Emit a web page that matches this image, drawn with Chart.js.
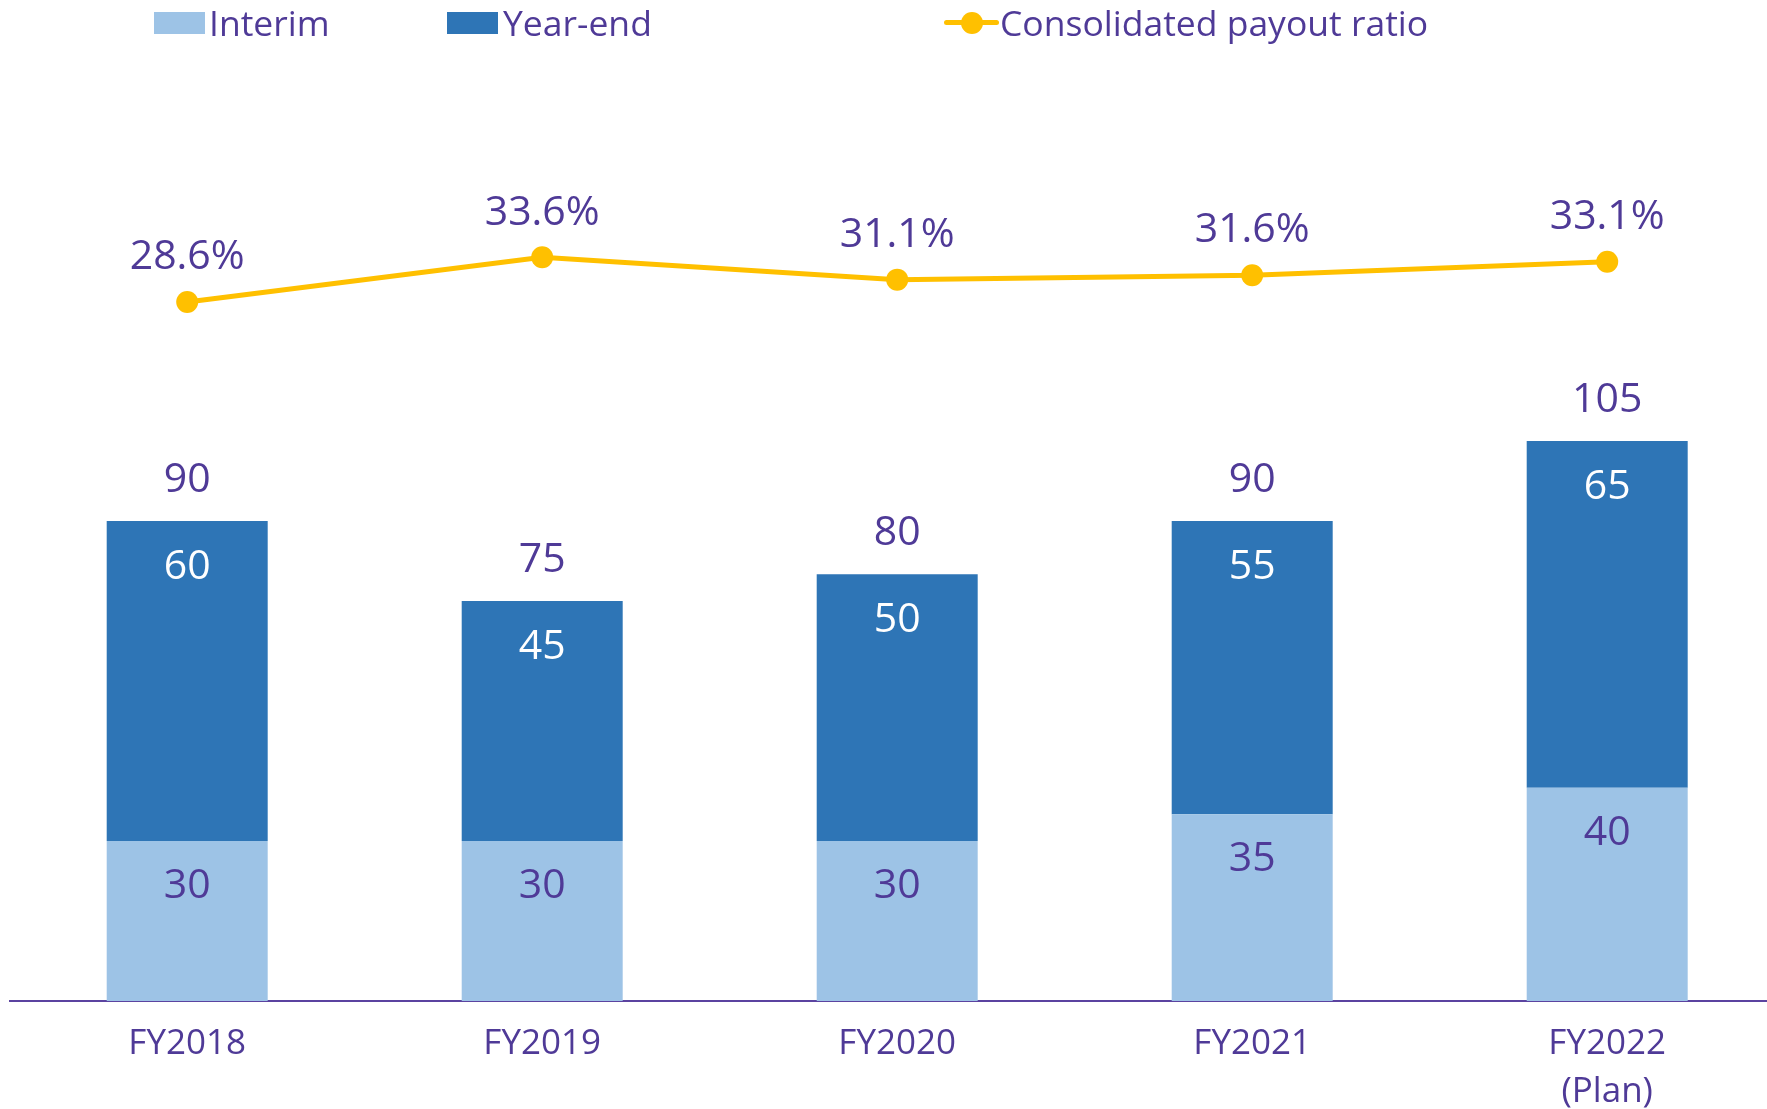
<!DOCTYPE html>
<html><head><meta charset="utf-8">
<script src="https://cdn.jsdelivr.net/npm/chart.js@4.4.0/dist/chart.umd.min.js"></script>
<style>
html,body{margin:0;padding:0;background:#fff;overflow:hidden;width:1767px;height:1109px;}
#wrap{position:relative;width:1767px;height:1109px;overflow:hidden;}
canvas{position:absolute;left:0;top:0;}
.lg{position:absolute;top:0;font-family:"Open Sans",sans-serif;font-size:35.5px;line-height:44px;color:#4F3A97;white-space:nowrap;}
.sw{position:absolute;top:12px;width:51px;height:22px;}
</style></head><body>
<div id="wrap">
<canvas id="c" width="1786" height="1109" style="width:1786px;height:1109px"></canvas>
<div class="sw" style="left:154px;background:#9DC3E6"></div>
<div class="lg" style="left:209px">Interim</div>
<div class="sw" style="left:447px;background:#2E75B6"></div>
<div class="lg" style="left:503px">Year-end</div>
<div style="position:absolute;left:944px;top:20px;width:55px;height:5px;background:#FFC000;border-radius:2.5px"></div>
<div style="position:absolute;left:961px;top:11.5px;width:22px;height:22px;background:#FFC000;border-radius:50%"></div>
<div class="lg" style="left:1000px">Consolidated payout ratio</div>
</div>
<script>
const categories = [['FY2018'], ['FY2019'], ['FY2020'], ['FY2021'], ['FY2022', '(Plan)']];
const interim = [30, 30, 30, 35, 40];
const yearEnd = [60, 45, 50, 55, 65];
const payoutRatio = [28.6, 33.6, 31.1, 31.6, 33.1];

const PURPLE = '#4F3A97';
const AXIS = '#5B43A0';

const labelPlugin = {
  id: 'valueLabels',
  afterDatasetsDraw(chart) {
    const ctx = chart.ctx;
    const xs = chart.scales.x;
    const mI = chart.getDatasetMeta(0), mY = chart.getDatasetMeta(1), mL = chart.getDatasetMeta(2);
    ctx.save();
    ctx.textAlign = 'center';
    ctx.textBaseline = 'alphabetic';
    ctx.font = '41px "Open Sans", sans-serif';
    for (let i = 0; i < categories.length; i++) {
      const bi = mI.data[i], by = mY.data[i], pt = mL.data[i];
      ctx.fillStyle = PURPLE;
      ctx.fillText(String(interim[i]), bi.x, bi.y + 57.1);
      ctx.fillStyle = '#FFFFFF';
      ctx.fillText(String(yearEnd[i]), by.x, by.y + 57.8);
      ctx.fillStyle = PURPLE;
      ctx.fillText(String(interim[i] + yearEnd[i]), by.x, by.y - 28.9);
      ctx.fillText(payoutRatio[i].toFixed(1) + '%', pt.x, pt.y - 32.7);
    }
    ctx.font = '35px "Open Sans", sans-serif';
    ctx.fillStyle = PURPLE;
    categories.forEach((c, i) => {
      const px = xs.getPixelForValue(i);
      const lines = Array.isArray(c) ? c : [c];
      lines.forEach((t, k) => ctx.fillText(t, px, xs.top + 53.2 + k * 47.7));
    });
    ctx.restore();
  }
};

function draw() {
  new Chart(document.getElementById('c'), {
    data: {
      labels: categories,
      datasets: [
        { type: 'bar', label: 'Interim', data: interim, backgroundColor: '#9DC3E6', stack: 's', yAxisID: 'y', order: 1,
          barPercentage: 0.4535, categoryPercentage: 1, borderWidth: 0 },
        { type: 'bar', label: 'Year-end', data: yearEnd, backgroundColor: '#2E75B6', stack: 's', yAxisID: 'y', order: 1,
          barPercentage: 0.4535, categoryPercentage: 1, borderWidth: 0 },
        { type: 'line', label: 'Consolidated payout ratio', data: payoutRatio, yAxisID: 'y2', order: 0,
          borderColor: '#FFC000', backgroundColor: '#FFC000', borderWidth: 5, tension: 0,
          pointRadius: 11, pointHoverRadius: 11, pointBackgroundColor: '#FFC000', pointBorderWidth: 0 }
      ]
    },
    options: {
      responsive: false,
      maintainAspectRatio: false,
      devicePixelRatio: 1,
      animation: false,
      events: [],
      layout: { autoPadding: false, padding: { left: 9.7, right: 1.3, top: 100, bottom: 108 } },
      plugins: { legend: { display: false }, tooltip: { enabled: false } },
      scales: {
        x: {
          type: 'category', stacked: true, offset: true, z: 1,
          grid: { display: false, drawTicks: false },
          ticks: { display: false },
          border: { display: true, color: AXIS, width: 2 }
        },
        y: { display: false, stacked: true, min: 0, max: 168.94 },
        y2: { display: false, min: -49.59, max: 51.195 }
      }
    },
    plugins: [labelPlugin]
  });
}
if (document.fonts && document.fonts.load) {
  Promise.all([document.fonts.load('41px "Open Sans"'), document.fonts.load('35px "Open Sans"')]).then(draw, draw);
} else { draw(); }
</script>
</body></html>
